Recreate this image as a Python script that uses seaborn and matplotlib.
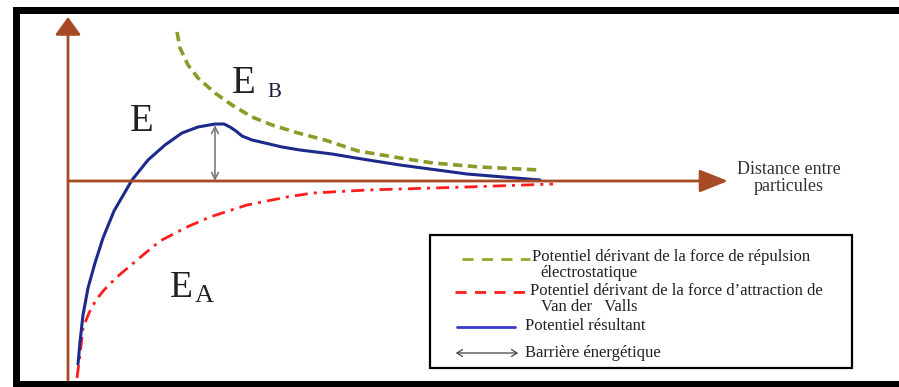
import matplotlib
matplotlib.use('Agg')
import matplotlib.pyplot as plt
from matplotlib.patches import Rectangle, FancyArrowPatch
from matplotlib.lines import Line2D
import seaborn as sns

# values, arbitrary units, origin where the two axes cross
dist_res = [10, 12, 15, 20, 27, 35, 46, 64, 80, 97, 114, 130, 147, 156, 162, 168, 174,
            184, 197, 214, 232, 264, 294, 332, 399, 472]
e_res = [-183, -161, -134, -107, -82, -57, -30, 1, 21, 36, 48, 54, 57, 57, 54, 50, 45,
         41, 38, 34, 31, 27, 22, 16, 7, 1]

dist_rep = [109, 112, 120, 130, 147, 164, 184, 204, 230, 257, 290, 332, 365, 412, 472]
e_rep = [149, 133, 116, 103, 88, 76, 64, 56, 48, 41, 30, 23, 18, 14, 11]

dist_att = [9, 12, 15, 21, 28, 36, 49, 69, 92, 119, 142, 179, 219, 245, 299, 399, 485]
e_att = [-197, -174, -147, -132, -119, -109, -96, -79, -60, -46, -36, -24, -16, -12,
         -9, -6, -3]

barrier_dist = 147
barrier_top = 56

legend_labels = [
    "Potentiel dérivant de la force de répulsion",
    "électrostatique",
    "Potentiel dérivant de la force d\u2019attraction de",
    "Van der   Valls",
    "Potentiel résultant",
    "Barrière énergétique",
]

sns.set_theme(style="white")
plt.rcParams['font.family'] = ['Liberation Serif', 'DejaVu Serif']

W, H = 899, 387
fig = plt.figure(figsize=(W / 100, H / 100), dpi=100)
ax = fig.add_axes([0, 0, 1, 1])
ax.set_xlim(-68, W - 68)
ax.set_ylim(181 - H, 181)
ax.axis('off')


def fx(x):
    return x / W


def fy(y):
    return 1 - y / H


# black frame (top, left, bottom)
for x0, y0, x1, y1 in [(13, 7, 899, 14), (13, 7, 20, 387), (13, 381, 899, 387)]:
    fig.add_artist(Rectangle((fx(x0), fy(y1)), fx(x1) - fx(x0), fy(y0) - fy(y1),
                             transform=fig.transFigure, color='black', lw=0))

# axes with arrow heads
axis_col = '#a64b25'
ax.annotate('', xy=(660, 0), xytext=(0, 0),
            arrowprops=dict(arrowstyle='-|>,head_length=1.45,head_width=0.58',
                            color=axis_col, lw=2, shrinkA=0, shrinkB=0))
ax.annotate('', xy=(0, 164), xytext=(0, -199),
            arrowprops=dict(arrowstyle='-|>,head_length=0.9,head_width=0.65',
                            color=axis_col, lw=2, shrinkA=0, shrinkB=0))

# curves
sns.lineplot(x=dist_rep, y=e_rep, ax=ax, color='#8c9a2a', lw=2.6,
             linestyle=(0, (2.6, 1.5)), sort=False)
sns.lineplot(x=dist_att, y=e_att, ax=ax, color='#ff1c1c', lw=2,
             linestyle=(0, (4.7, 2.2, 1.1, 2.2)), sort=False)
sns.lineplot(x=dist_res, y=e_res, ax=ax, color='#1c2a8c', lw=2.2, sort=False)

# energy barrier
ax.annotate('', xy=(barrier_dist, barrier_top), xytext=(barrier_dist, 0),
            arrowprops=dict(arrowstyle='<->', color='#7a7a7a', lw=1.2,
                            shrinkA=0, shrinkB=0))

# curve labels
txt = '#222222'
fig.text(fx(130), fy(131), 'E', fontsize=28, color=txt, va='baseline')
fig.text(fx(232), fy(93), 'E', fontsize=28, color=txt, va='baseline')
fig.text(fx(267), fy(97), 'B', fontsize=15, color='#1a1a40', va='baseline')
fig.text(fx(170), fy(297), 'E', fontsize=27, color=txt, va='baseline')
fig.text(fx(195), fy(302), 'A', fontsize=19, color=txt, va='baseline')

fig.text(fx(789), fy(178), 'Distance entre\nparticules', fontsize=13,
         color='#333333', ha='center', va='center', linespacing=1.05)

# legend box
fig.add_artist(Rectangle((fx(430), fy(368)), fx(852) - fx(430), fy(235) - fy(368),
                         transform=fig.transFigure, facecolor='white',
                         edgecolor='black', lw=1.6))
fig.add_artist(Line2D([fx(462), fx(530)], [fy(259)] * 2, transform=fig.transFigure,
                      color='#9aa52a', lw=2, linestyle=(0, (4, 3))))
fig.add_artist(Line2D([fx(455), fx(528)], [fy(292)] * 2, transform=fig.transFigure,
                      color='#ff1c1c', lw=2, linestyle=(0, (4, 3))))
fig.add_artist(Line2D([fx(457), fx(515)], [fy(327)] * 2, transform=fig.transFigure,
                      color='#3a3ad0', lw=2))
fig.add_artist(FancyArrowPatch(
    (fx(453), fy(353)), (fx(521), fy(353)), transform=fig.transFigure,
    arrowstyle='<->,head_length=4,head_width=2.5', color='#444444', lw=0.9))

leg_fs = 12
for (x, y), lab in zip([(532, 257), (540, 273), (530, 291), (541, 307), (525, 326), (525, 353)],
                       legend_labels):
    fig.text(fx(x), fy(y), lab, fontsize=leg_fs, color='#222222', va='center')

fig.savefig('out.png', dpi=100)
